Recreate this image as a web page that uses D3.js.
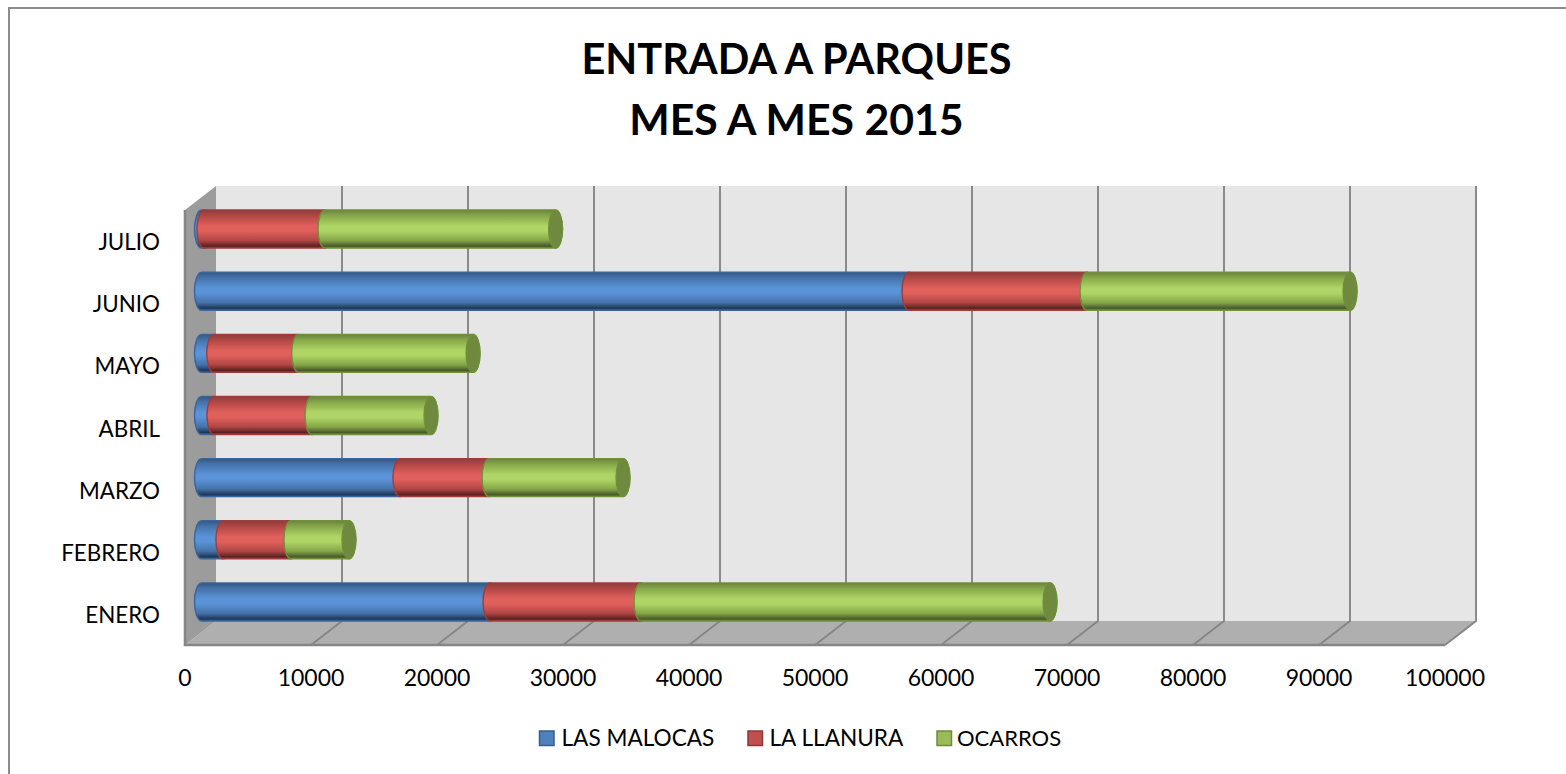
<!DOCTYPE html>
<html><head><meta charset="utf-8">
<script src="https://cdn.jsdelivr.net/npm/d3@7"></script>
<style>
html,body{margin:0;padding:0;background:#fff}
svg{display:block}
text{font-family:Lato,"Open Sans",sans-serif;fill:#000}
</style></head><body>
<svg id="c" width="1566" height="774"></svg>
<script>
const months = ["ENERO","FEBRERO","MARZO","ABRIL","MAYO","JUNIO","JULIO"];
const seriesNames = ["LAS MALOCAS","LA LLANURA","OCARROS"];
const lasMalocas = [22900,1700,15750,990,970,56150,200];
const laLlanura  = [11980,5400,7070,7780,6740,14130,9600];
const ocarros    = [32460,4600,10630,9440,13840,20870,18300];
const tickValues = [0,10000,20000,30000,40000,50000,60000,70000,80000,90000,100000];
const titleLines = ["ENTRADA A PARQUES","MES A MES 2015"];

const seriesValues = [lasMalocas,laLlanura,ocarros];
const seriesStyle = [
 {light:"#5b93d8",mid:"#4472a8",top:"#33577f",dark:"#1f3658",edge:"#3a659c",cap:"#4a7ebb",key:"#4f81bd",keyEdge:"#385d8a"},
 {light:"#e0605c",mid:"#b04644",top:"#87403e",dark:"#5a2120",edge:"#a03c3a",cap:"#be4b48",key:"#c0504d",keyEdge:"#8c3836"},
 {light:"#afd566",mid:"#85a648",top:"#6b8240",dark:"#47592a",edge:"#6f9038",cap:"#6f8a3f",key:"#9bbb59",keyEdge:"#71893f"}
];

const svg = d3.select("#c");
const defs = svg.append("defs");
seriesStyle.forEach((s,i)=>{
  const g = defs.append("linearGradient").attr("id","cyl"+i).attr("x1",0).attr("y1",0).attr("x2",0).attr("y2",1);
  [[0,s.top],[.14,s.mid],[.42,s.light],[.55,s.light],[.8,s.mid],[.95,s.dark],[1,s.edge]]
    .forEach(([o,c])=>g.append("stop").attr("offset",o).attr("stop-color",c));
});

// chart frame: the right and bottom edges are cropped away in the reference
svg.append("path").attr("d","M9,774V8H1566").attr("fill","none").attr("stroke","#8c8c8c").attr("stroke-width",2);

// title
svg.append("g").selectAll("text").data(titleLines).join("text")
  .attr("x",796.5).attr("y",(d,i)=>74+i*61).attr("text-anchor","middle")
  .attr("font-size",(d,i)=>i?42.8:41.5).attr("font-weight",700).text(d=>d);

// 3-D box geometry
const depthX = 31, depthY = 24;
const floorFrontY = 645, topBackY = 186;
const x = d3.scaleLinear().domain([0,100000]).range([185,1445]);
const y = d3.scaleBand().domain(months).range([633,198]).paddingInner(.388).paddingOuter(.194);
const barShift = 16.5, rx = 7;
const bx = v => x(v)+barShift;
const x0 = x(0), x1 = x(100000);

const box = svg.append("g");
box.append("polygon").attr("fill","#e6e6e6")
  .attr("points",[[x0+depthX,topBackY],[x1+depthX,topBackY],[x1+depthX,floorFrontY-depthY],[x0+depthX,floorFrontY-depthY]].join(" "));
box.append("polygon").attr("fill","#afafaf")
  .attr("points",[[x0,floorFrontY],[x1,floorFrontY],[x1+depthX,floorFrontY-depthY],[x0+depthX,floorFrontY-depthY]].join(" "));
box.append("polygon").attr("fill","#9c9c9c")
  .attr("points",[[x0,topBackY+depthY],[x0+depthX,topBackY],[x0+depthX,floorFrontY-depthY],[x0,floorFrontY]].join(" "));

// gridlines
box.selectAll("path.grid").data(tickValues.slice(1)).join("path").attr("class","grid")
  .attr("fill","none").attr("stroke","#868686").attr("stroke-width",1.9)
  .attr("d",d=>`M${x(d)},${floorFrontY}L${x(d)+depthX},${floorFrontY-depthY}V${topBackY}`);
box.append("path").attr("fill","none").attr("stroke","#868686").attr("stroke-width",2.6)
  .attr("d",`M${x0},${topBackY+depthY}V${floorFrontY}H${x1}`);

// value ticks
svg.append("g").selectAll("text").data(tickValues).join("text")
  .attr("x",d=>x(d)).attr("y",685.5).attr("text-anchor","middle").attr("font-size",23).text(d=>d);

// category labels
svg.append("g").selectAll("text").data(months).join("text")
  .attr("x",160).attr("y",d=>y(d)+y.bandwidth()/2+21).attr("text-anchor","end").attr("font-size",22.4).text(d=>d);

// cylinders, drawn so later segments overlap earlier ones
const bars = svg.append("g");
months.slice().reverse().forEach(m=>{
  const mi = months.indexOf(m);
  const top = y(m), h = y.bandwidth(), ry = h/2;
  let cum = 0;
  const segs = seriesValues.map((vals,si)=>{const a=cum; cum+=vals[mi]; return {si,a,b:cum};});
  segs.forEach(s=>{
    const st = seriesStyle[s.si];
    const xa = bx(s.a), xb = bx(s.b);
    bars.append("path").attr("fill",`url(#cyl${s.si})`).attr("stroke",st.edge).attr("stroke-width",1.4)
      .attr("d",`M${xa},${top}L${xb},${top}A${rx},${ry} 0 0 1 ${xb},${top+h}L${xa},${top+h}A${rx},${ry} 0 0 1 ${xa},${top}Z`);
  });
  const last = segs[segs.length-1], st = seriesStyle[last.si];
  bars.append("ellipse").attr("cx",bx(last.b)).attr("cy",top+ry).attr("rx",rx).attr("ry",ry)
    .attr("fill",st.cap).attr("stroke",st.edge).attr("stroke-width",1.2);
});

// legend
const legendX = [539.5,748,937];
const legendTextX = [561.5,769.5,957];
const legend = svg.append("g");
seriesNames.forEach((n,i)=>{
  legend.append("rect").attr("x",legendX[i]).attr("y",731).attr("width",14.5).attr("height",14.5)
    .attr("fill",seriesStyle[i].key).attr("stroke",seriesStyle[i].keyEdge).attr("stroke-width",1.5);
  legend.append("text").attr("x",legendTextX[i]).attr("y",746).attr("font-size",i===2?22:22.6).text(n);
});
</script></body></html>
